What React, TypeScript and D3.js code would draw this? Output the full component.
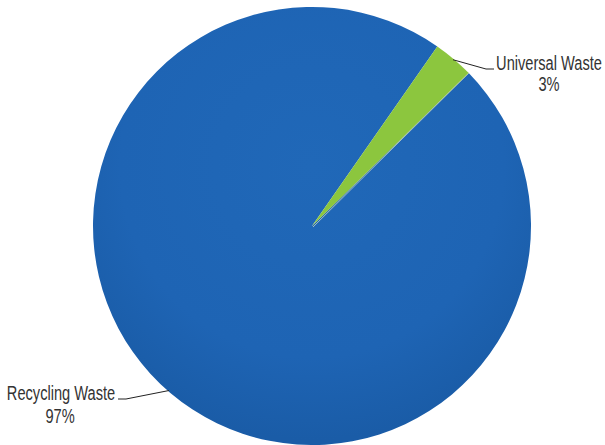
import React from "react";
import * as d3 from "d3";

const categories = ["Universal Waste", "Recycling Waste"];
const values = [3, 97];
const percentLabels = ["3%", "97%"];
const colors = ["#8cc63e", "#1e65b4"];

const W = 605;
const H = 445;
const cx = 312;
const cy = 226;
const R = 219;
const startDeg = 34.9;

export default function App() {
  const pie = d3
    .pie<number>()
    .sort(null)
    .value((d) => d)
    .startAngle((startDeg * Math.PI) / 180)
    .endAngle((startDeg * Math.PI) / 180 + 2 * Math.PI);
  const arcs = pie(values);
  const arc = d3.arc<d3.PieArcDatum<number>>().innerRadius(0).outerRadius(R);

  const font = "'Liberation Sans', Arial, sans-serif";
  const sx = 0.75;

  const greenEdge = arcs[0].endAngle;
  const ge = [cx + R * Math.sin(greenEdge), cy - R * Math.cos(greenEdge)];
  const m0 = (arcs[0].startAngle + arcs[0].endAngle) / 2;
  const uA = [cx + (R - 1) * Math.sin(m0), cy - (R - 1) * Math.cos(m0)];
  const recAngle = (221 * Math.PI) / 180;
  const rA = [cx + (R - 1) * Math.sin(recAngle), cy - (R - 1) * Math.cos(recAngle)];

  const Label = ({ x, y, t }: { x: number; y: number; t: string }) => (
    <text
      transform={`translate(${x},${y}) scale(${sx},1)`}
      fontFamily={font}
      fontSize={19.5}
      fill="#333"
      textAnchor="middle"
    >
      {t}
    </text>
  );

  return (
    <svg width={W} height={H} style={{ position: "absolute", left: 0, top: 0, background: "#fff" }}>
      <defs>
        <radialGradient id="blueGrad" cx={0} cy={-60} r={R * 1.25} gradientUnits="userSpaceOnUse">
          <stop offset="0%" stopColor="#2068b8" />
          <stop offset="70%" stopColor="#1e64b4" />
          <stop offset="100%" stopColor="#1a5ca7" />
        </radialGradient>
      </defs>
      <g transform={`translate(${cx},${cy})`}>
        <path d={arc(arcs[1]) || ""} fill="url(#blueGrad)" />
        <path d={arc(arcs[0]) || ""} fill={colors[0]} />
      </g>
      <line x1={cx + 1} y1={cy + 1} x2={ge[0]} y2={ge[1]} stroke="#c9d3c0" strokeWidth={0.8} />
      <polyline
        points={`${uA[0]},${uA[1]} ${486},${69} ${494},${69}`}
        fill="none"
        stroke="#222"
        strokeWidth={1}
      />
      <polyline
        points={`${rA[0]},${rA[1]} ${126},${399} ${118},${399}`}
        fill="none"
        stroke="#222"
        strokeWidth={1}
      />
      <Label x={549} y={70} t={categories[0]} />
      <Label x={549} y={91} t={percentLabels[0]} />
      <Label x={61} y={400} t={categories[1]} />
      <Label x={60} y={423} t={percentLabels[1]} />
    </svg>
  );
}
